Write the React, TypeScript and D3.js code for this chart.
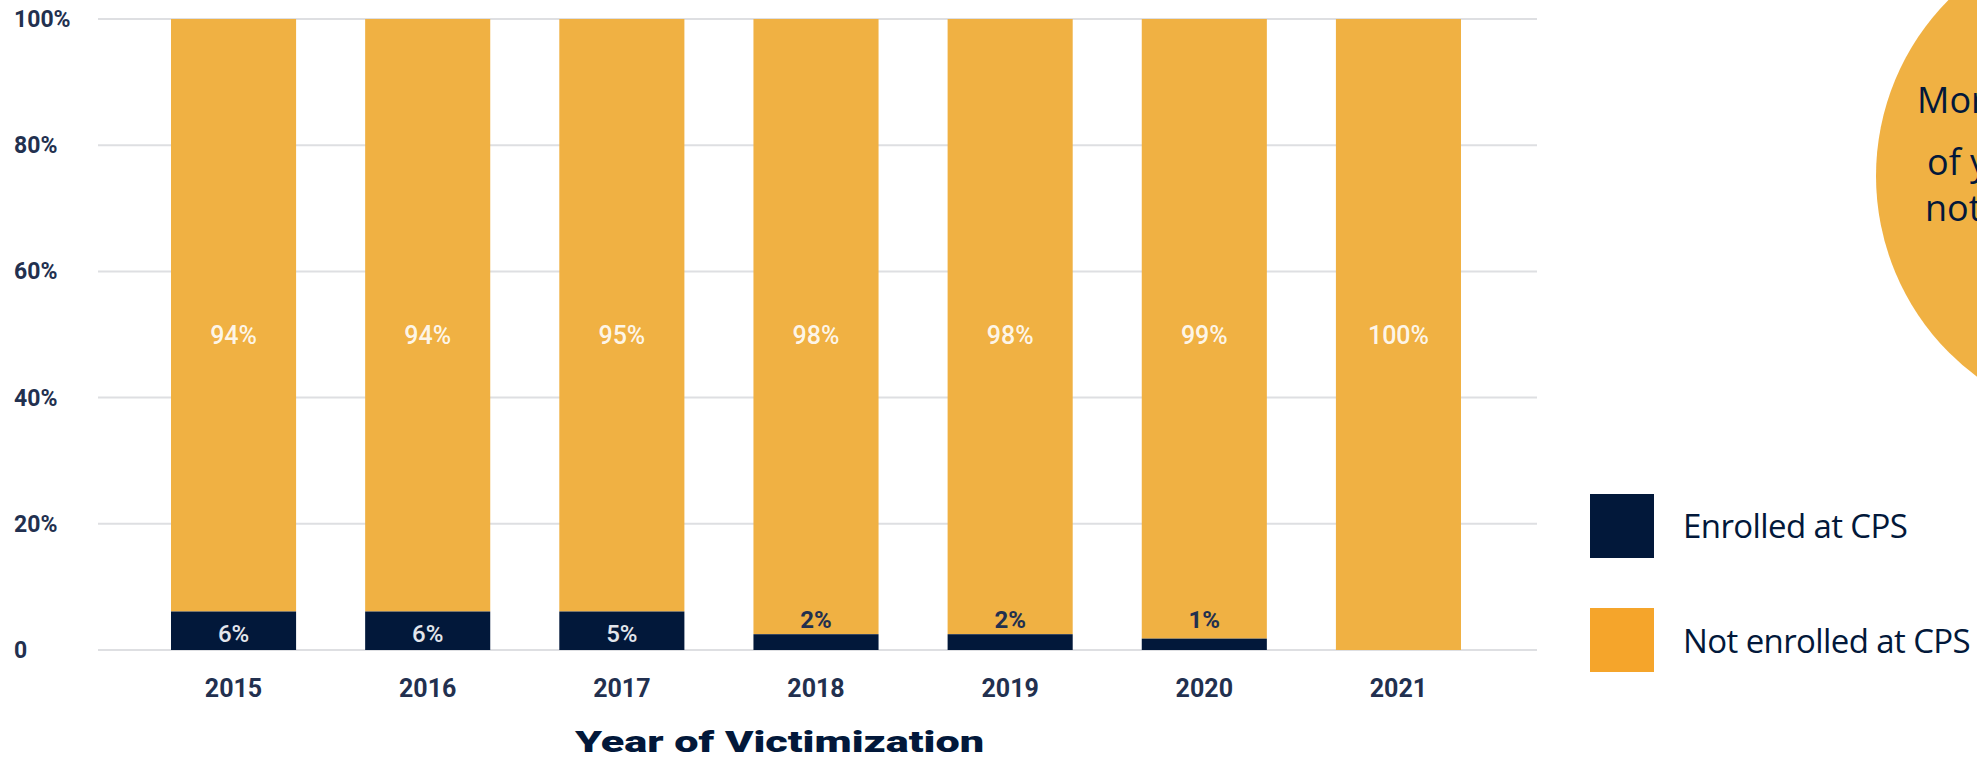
import React from "react";
import * as d3 from "d3";

const years = ["2015", "2016", "2017", "2018", "2019", "2020", "2021"];
// share enrolled at CPS
const enrolled = [6.1, 6.1, 6.1, 2.5, 2.5, 1.8, 0];
const enrolledLabels = ["6%", "6%", "5%", "2%", "2%", "1%", ""];
const notEnrolledLabels = ["94%", "94%", "95%", "98%", "98%", "99%", "100%"];
const yTicks = [0, 20, 40, 60, 80, 100];
const legendItems = ["Enrolled at CPS", "Not enrolled at CPS"];
const calloutLines = ["More than 90% of victims", "of youth victims were", "not enrolled at CPS"];

const NAVY = "#02183a";
const ORANGE = "#f0b143";
const LEGEND_ORANGE = "#f5a52b";
const AXIS_TEXT = "#22304f";

export default function App() {
  const x = d3.scaleBand<string>().domain(years).range([171, 1461]).paddingInner(0.3557).paddingOuter(0);
  const y = d3.scaleLinear().domain([0, 100]).range([650, 19]);
  const bw = x.bandwidth();

  return (
    <svg
      width={1977}
      height={761}
      style={{ position: "absolute", left: 0, top: 0, display: "block", background: "#fff" }}
    >
      {/* callout circle */}
      <circle cx={2126} cy={176} r={250} fill={ORANGE} />
      {calloutLines.map((t, i) => (
        <text
          key={t}
          x={[1917, 1927, 1925][i]}
          y={[113, 175, 221][i]}
          fontFamily="'Open Sans', sans-serif"
          fontSize={36}
          fill={NAVY}
        >
          {t}
        </text>
      ))}

      {/* gridlines */}
      {yTicks.map((t) => (
        <line key={t} x1={98} x2={1537} y1={y(t)} y2={y(t)} stroke="#dedfe2" strokeWidth={2} />
      ))}
      {/* y tick labels */}
      {yTicks.map((t) => (
        <text
          key={"l" + t}
          x={14}
          y={y(t) + 8}
          fontFamily="Roboto, sans-serif"
          fontWeight={700}
          fontSize={23}
          fill={AXIS_TEXT}
        >
          {t === 0 ? "0" : `${t}%`}
        </text>
      ))}

      {/* bars */}
      {years.map((yr, i) => {
        const x0 = x(yr)!;
        return (
          <g key={yr}>
            <rect x={x0} y={y(100)} width={bw} height={y(enrolled[i]) - y(100)} fill={ORANGE} />
            {enrolled[i] > 0 && (
              <rect x={x0} y={y(enrolled[i])} width={bw} height={y(0) - y(enrolled[i])} fill={NAVY} />
            )}
            <text
              x={x0 + bw / 2}
              y={y(50) + 9}
              textAnchor="middle"
              fontFamily="Roboto, sans-serif"
              fontWeight={500}
              fontSize={25}
              fill="#fff"
              fillOpacity={0.9}
            >
              {notEnrolledLabels[i]}
            </text>
            {enrolledLabels[i] &&
              (enrolled[i] > 4 ? (
                <text
                  x={x0 + bw / 2}
                  y={642}
                  textAnchor="middle"
                  fontFamily="Roboto, sans-serif"
                  fontWeight={500}
                  fontSize={24}
                  fill="#e3e6ec"
                >
                  {enrolledLabels[i]}
                </text>
              ) : (
                <text
                  x={x0 + bw / 2}
                  y={628}
                  textAnchor="middle"
                  fontFamily="Roboto, sans-serif"
                  fontWeight={700}
                  fontSize={24}
                  fill={AXIS_TEXT}
                >
                  {enrolledLabels[i]}
                </text>
              ))}
            <text
              x={x0 + bw / 2}
              y={697}
              textAnchor="middle"
              fontFamily="Roboto, sans-serif"
              fontWeight={700}
              fontSize={25}
              fill={AXIS_TEXT}
            >
              {yr}
            </text>
          </g>
        );
      })}

      {/* x axis title */}
      <text
        x={575}
        y={752}
        textLength={409}
        lengthAdjust="spacingAndGlyphs"
        fontFamily="Roboto, sans-serif"
        fontWeight={900}
        fontSize={30}
        fill={NAVY}
      >
        Year of Victimization
      </text>

      {/* legend */}
      {legendItems.map((t, i) => (
        <g key={t}>
          <rect x={1590} y={494 + i * 114} width={64} height={64} fill={i === 0 ? NAVY : LEGEND_ORANGE} />
          <text
            x={1683}
            y={538 + i * 115}
            fontFamily="'Open Sans', sans-serif"
            fontSize={33}
            letterSpacing={-0.6}
            fill={NAVY}
          >
            {t}
          </text>
        </g>
      ))}
    </svg>
  );
}
